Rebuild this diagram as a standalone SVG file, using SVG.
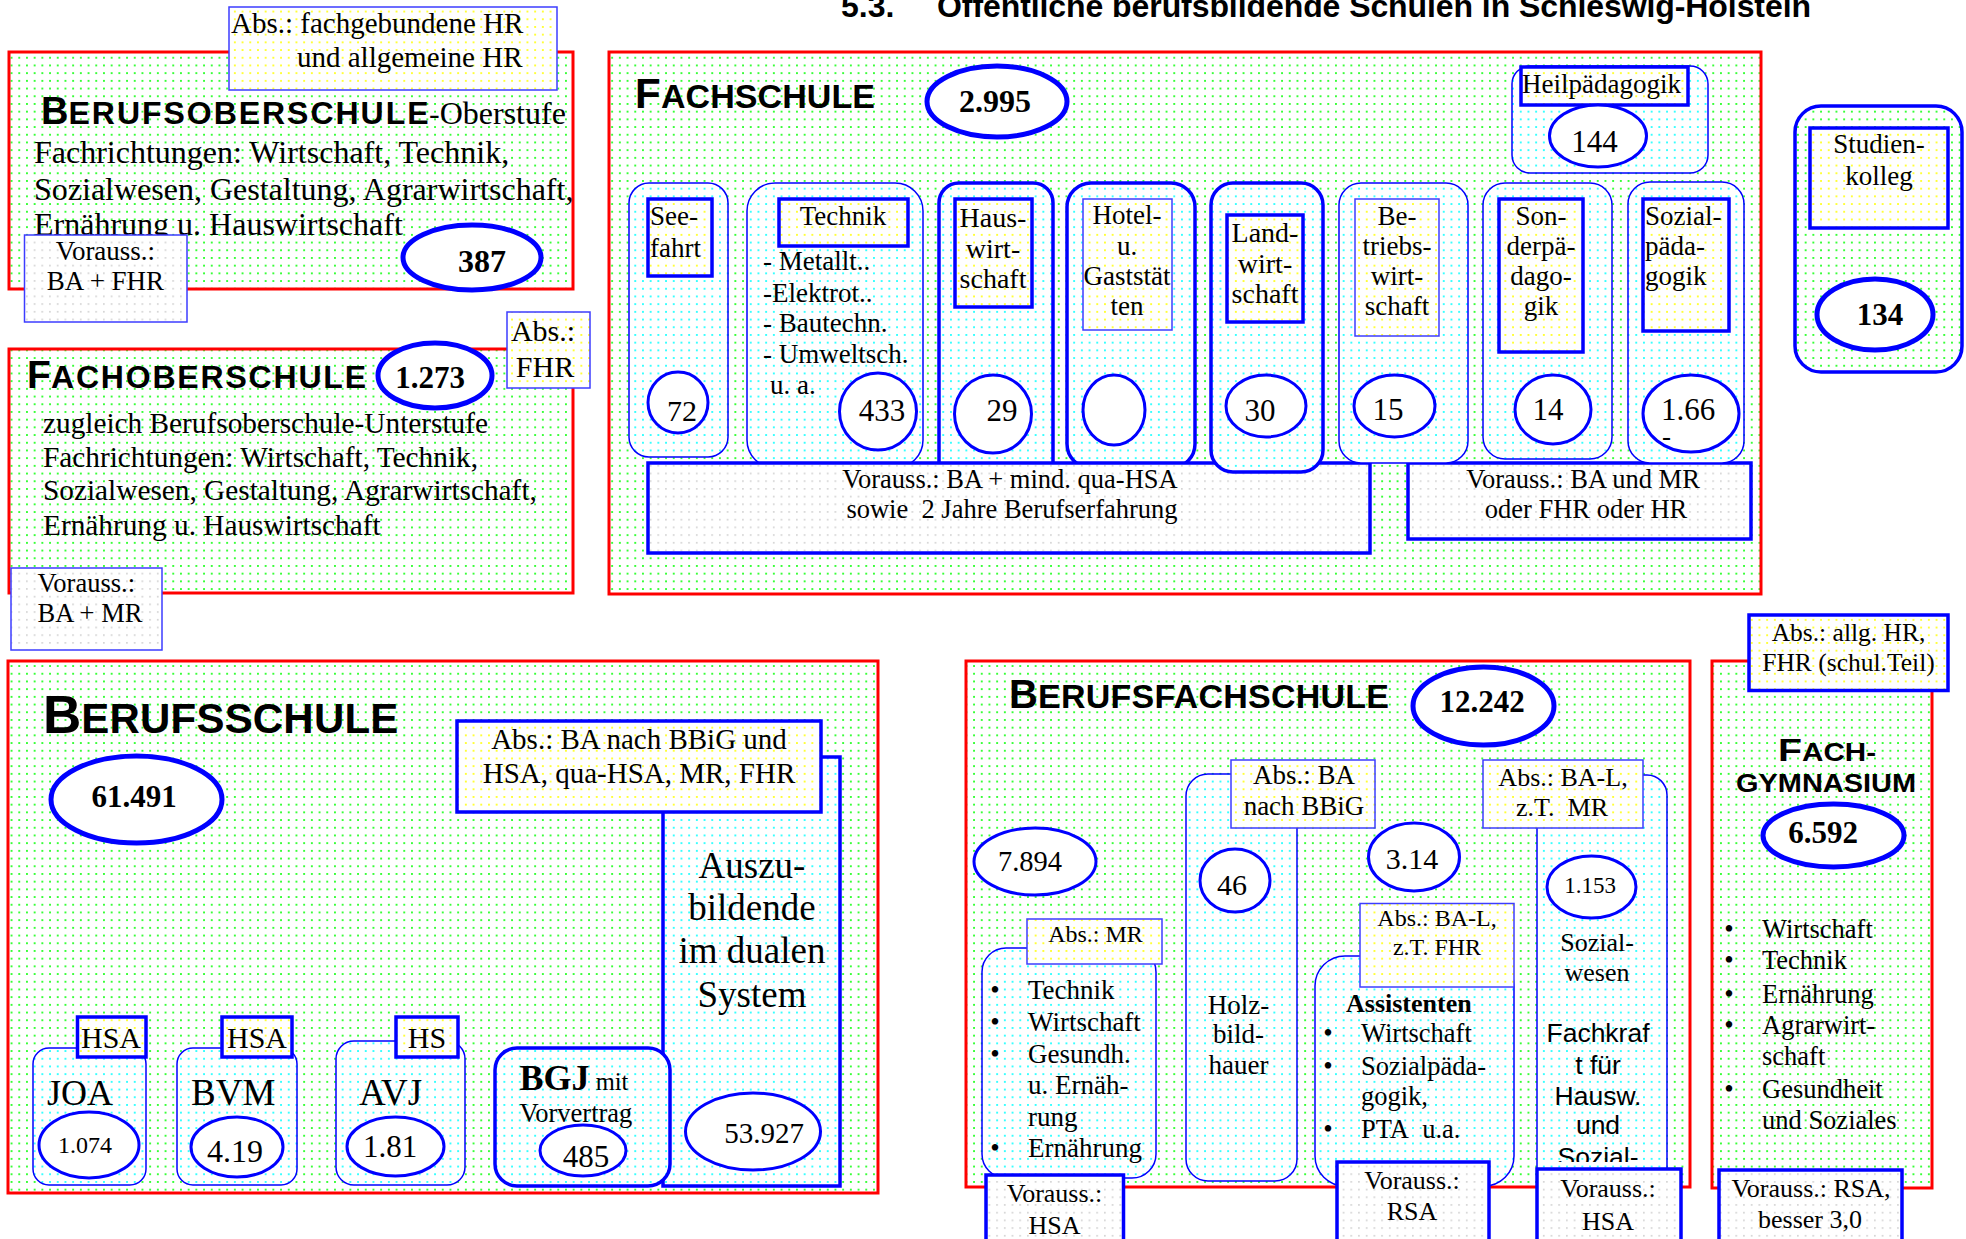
<svg xmlns="http://www.w3.org/2000/svg" width="1966" height="1239" viewBox="0 0 1966 1239">
<defs>
<pattern id="pg" patternUnits="userSpaceOnUse" width="7.7" height="7.7"><rect width="7.7" height="7.7" fill="#fff"/><rect x="3" y="3" width="1.7" height="1.7" fill="#00ff00"/></pattern>
<pattern id="pc" patternUnits="userSpaceOnUse" width="7.7" height="7.7"><rect width="7.7" height="7.7" fill="#fff"/><rect x="3" y="3" width="1.7" height="1.7" fill="#00ffff"/></pattern>
<pattern id="py" patternUnits="userSpaceOnUse" width="7.7" height="7.7"><rect width="7.7" height="7.7" fill="#fff"/><rect x="3" y="3" width="1.7" height="1.7" fill="#ffff00"/></pattern>
<pattern id="pgr" patternUnits="userSpaceOnUse" width="7.7" height="7.7"><rect width="7.7" height="7.7" fill="#fff"/><rect x="3" y="3" width="1.5" height="1.5" fill="#c8c8c8"/></pattern>
<clipPath id="clipSW"><rect x="1537" y="1000" width="130" height="162"/></clipPath>
</defs>
<style>
.s{font-family:"Liberation Serif","Times New Roman",serif;fill:#000}
.a{font-family:"Liberation Sans",Arial,sans-serif;font-weight:bold;fill:#000}
.ar{font-family:"Liberation Sans",Arial,sans-serif;fill:#000}
.b{font-weight:bold}
.m{text-anchor:middle}
.red{fill:url(#pg);stroke:#ff0000;stroke-width:3}
.cyn{fill:url(#pc);stroke:#0000ff;stroke-width:1.5}
.cynT{fill:url(#pc);stroke:#0000ff;stroke-width:3.5}
.grn{fill:url(#pg);stroke:#0000ff;stroke-width:3.5}
.yl{fill:url(#py);stroke:#3c3cff;stroke-width:1.5}
.ylT{fill:url(#py);stroke:#0000ff;stroke-width:3.5}
.vr{fill:url(#pgr);stroke:#3c3cff;stroke-width:1.5}
.vrT{fill:url(#pgr);stroke:#0000ff;stroke-width:3.5}
.e{fill:#fff;stroke:#0000ff;stroke-width:3}
.E{fill:#fff;stroke:#0000ff;stroke-width:5}
</style>
<rect width="1966" height="1239" fill="#fff"/>

<g id="title">
<text class="a" x="841" y="17" font-size="32">5.3.</text>
<text class="a" x="937" y="17" font-size="32" textLength="874">Öffentliche berufsbildende Schulen in Schleswig-Holstein</text>
</g>

<!-- Berufsoberschule -->
<g id="berufsoberschule">
<rect class="red" x="9" y="52" width="564" height="237"/>
<text class="a" x="41" y="124" font-size="38">B</text>
<text class="a" x="68.5" y="124" font-size="32" textLength="360">ERUFSOBERSCHULE</text>
<text class="s" x="429" y="124" font-size="32">-Oberstufe</text>
<text class="s" x="34" y="163" font-size="32">Fachrichtungen: Wirtschaft, Technik,</text>
<text class="s" x="34" y="200" font-size="32">Sozialwesen, Gestaltung, Agrarwirtschaft,</text>
<text class="s" x="34" y="235" font-size="32">Ernährung u. Hauswirtschaft</text>
<ellipse class="E" cx="472" cy="257.5" rx="69" ry="32.5"/>
<text class="s b m" x="482" y="272" font-size="32">387</text>
</g>
<g id="bos-abs">
<rect class="yl" x="229" y="7" width="328" height="83"/>
<text class="s" x="231" y="33" font-size="29">Abs.: fachgebundene HR</text>
<text class="s" x="297" y="67" font-size="29">und allgemeine HR</text>
</g>
<g id="bos-vorauss">
<rect class="vr" x="24.5" y="235" width="162.5" height="87"/>
<text class="s m" x="105.5" y="260" font-size="27">Vorauss.:</text>
<text class="s m" x="105.5" y="290" font-size="27">BA + FHR</text>
</g>

<!-- Fachoberschule -->
<g id="fachoberschule">
<rect class="red" x="9" y="349" width="564" height="244"/>
<text class="a" x="27" y="388" font-size="39">F</text>
<text class="a" x="51" y="388" font-size="32" textLength="315">ACHOBERSCHULE</text>
<ellipse class="E" cx="435" cy="375.5" rx="57" ry="32.5"/>
<text class="s b m" x="430" y="388" font-size="31">1.273</text>
<text class="s" x="43" y="433" font-size="29.3">zugleich Berufsoberschule-Unterstufe</text>
<text class="s" x="43" y="467" font-size="29.3">Fachrichtungen: Wirtschaft, Technik,</text>
<text class="s" x="43" y="500" font-size="29.3">Sozialwesen, Gestaltung, Agrarwirtschaft,</text>
<text class="s" x="43" y="535" font-size="29.3">Ernährung u. Hauswirtschaft</text>
</g>
<g id="fos-abs">
<rect class="yl" x="507" y="312" width="83" height="76"/>
<text class="s m" x="543" y="341" font-size="30">Abs.:</text>
<text class="s m" x="545" y="377" font-size="30">FHR</text>
</g>
<g id="fos-vorauss">
<rect class="vr" x="11" y="568" width="151" height="82"/>
<text class="s" x="37.6" y="592" font-size="26.5">Vorauss.:</text>
<text class="s" x="37.6" y="622" font-size="26.5">BA + MR</text>
</g>

<!-- Fachschule -->
<g id="fachschule">
<rect class="red" x="609" y="52" width="1152" height="542"/>
<text class="a" x="635" y="108" font-size="42">F</text>
<text class="a" x="661" y="108" font-size="34" textLength="214">ACHSCHULE</text>
<ellipse class="E" cx="997" cy="101.5" rx="70" ry="35.5"/>
<text class="s b m" x="995" y="112" font-size="32">2.995</text>
</g>
<g id="fs-heilpaedagogik">
<rect class="cyn" x="1512" y="66" width="196" height="107" rx="18"/>
<rect class="ylT" x="1521" y="67" width="167" height="38"/>
<text class="s m" x="1601.5" y="93" font-size="27">Heilpädagogik</text>
<ellipse class="e" cx="1598" cy="136" rx="48.5" ry="31" stroke-width="3.5"/>
<text class="s m" x="1594.5" y="152" font-size="31">144</text>
</g>
<g id="fs-seefahrt">
<rect class="cyn" x="629" y="183" width="99" height="274" rx="20"/>
<rect class="ylT" x="648" y="199" width="64" height="77"/>
<text class="s" x="650" y="225" font-size="27">See-</text>
<text class="s" x="650" y="257" font-size="27">fahrt</text>
<ellipse class="e" cx="678" cy="402.5" rx="30" ry="30.5"/>
<text class="s m" x="682" y="421" font-size="30">72</text>
</g>
<g id="fs-technik">
<rect class="cyn" x="747" y="183" width="176" height="285" rx="28"/>
<rect class="ylT" x="779" y="199" width="129" height="47"/>
<text class="s m" x="843" y="225" font-size="27">Technik</text>
<text class="s" x="763" y="270" font-size="27">- Metallt..</text>
<text class="s" x="763" y="302" font-size="27">-Elektrot..</text>
<text class="s" x="763" y="332" font-size="27">- Bautechn.</text>
<text class="s" x="763" y="363" font-size="27">- Umweltsch.</text>
<text class="s" x="770" y="394" font-size="27">u. a.</text>
<ellipse class="e" cx="878" cy="411.5" rx="38.5" ry="38.5"/>
<text class="s m" x="882" y="421" font-size="31">433</text>
</g>
<g id="fs-hauswirtschaft">
<rect class="cynT" x="939" y="183" width="114" height="300" rx="20"/>
<rect class="ylT" x="955" y="199" width="77" height="108"/>
<text class="s m" x="993" y="227" font-size="28">Haus-</text>
<text class="s m" x="993" y="258" font-size="28">wirt-</text>
<text class="s m" x="993" y="288" font-size="28">schaft</text>
<ellipse class="e" cx="993" cy="414" rx="38.5" ry="39"/>
<text class="s m" x="1002" y="421" font-size="31">29</text>
</g>
<g id="fs-hotel">
<rect class="cynT" x="1067" y="183" width="128" height="285" rx="24"/>
<rect class="yl" x="1083" y="199" width="89" height="131"/>
<text class="s m" x="1127" y="224" font-size="27">Hotel-</text>
<text class="s m" x="1127" y="255" font-size="27">u.</text>
<text class="s m" x="1127" y="285" font-size="27">Gaststät</text>
<text class="s m" x="1127" y="315" font-size="27">ten</text>
<ellipse class="e" cx="1114" cy="410" rx="31" ry="35"/>
</g>
<g id="fs-vorauss-1">
<rect class="vrT" x="648" y="463" width="722" height="90"/>
<text class="s m" x="1010" y="488" font-size="26.5">Vorauss.: BA + mind. qua-HSA</text>
<text class="s m" x="1012" y="518" font-size="26.5">sowie&#160; 2 Jahre Berufserfahrung</text>
</g>
<g id="fs-vorauss-2">
<rect class="vrT" x="1408" y="463" width="343" height="76"/>
<text class="s m" x="1583" y="488" font-size="26.5">Vorauss.: BA und MR</text>
<text class="s m" x="1586" y="518" font-size="26.5">oder FHR oder HR</text>
</g>
<g id="fs-landwirtschaft">
<rect class="cynT" x="1211" y="183" width="112" height="289" rx="22"/>
<rect class="ylT" x="1227" y="215" width="76" height="107"/>
<text class="s m" x="1265" y="242" font-size="28">Land-</text>
<text class="s m" x="1265" y="273" font-size="28">wirt-</text>
<text class="s m" x="1265" y="303" font-size="28">schaft</text>
<ellipse class="e" cx="1266" cy="406" rx="40" ry="31"/>
<text class="s m" x="1260" y="421" font-size="31">30</text>
</g>
<g id="fs-betriebswirtschaft">
<rect class="cyn" x="1339" y="183" width="129" height="280" rx="22"/>
<rect class="yl" x="1355" y="199" width="84" height="137"/>
<text class="s m" x="1397" y="225" font-size="27">Be-</text>
<text class="s m" x="1397" y="255" font-size="27">triebs-</text>
<text class="s m" x="1397" y="285" font-size="27">wirt-</text>
<text class="s m" x="1397" y="315" font-size="27">schaft</text>
<ellipse class="e" cx="1394.5" cy="406" rx="40.5" ry="31"/>
<text class="s m" x="1388" y="420" font-size="31">15</text>
</g>
<g id="fs-sonderpaedagogik">
<rect class="cyn" x="1483" y="183" width="129" height="276" rx="22"/>
<rect class="ylT" x="1499" y="199" width="84" height="153"/>
<text class="s m" x="1541" y="225" font-size="27">Son-</text>
<text class="s m" x="1541" y="255" font-size="27">derpä-</text>
<text class="s m" x="1541" y="285" font-size="27">dago-</text>
<text class="s m" x="1541" y="315" font-size="27">gik</text>
<ellipse class="e" cx="1553" cy="409.5" rx="38" ry="34.5"/>
<text class="s m" x="1548" y="420" font-size="31">14</text>
</g>
<g id="fs-sozialpaedagogik">
<rect class="cyn" x="1628" y="182" width="116" height="281" rx="22"/>
<rect class="ylT" x="1643" y="199" width="86" height="132"/>
<text class="s" x="1645" y="225" font-size="27">Sozial-</text>
<text class="s" x="1645" y="255" font-size="27">päda-</text>
<text class="s" x="1645" y="285" font-size="27">gogik</text>
<ellipse class="e" cx="1691" cy="413.5" rx="48" ry="38.5"/>
<text class="s m" x="1688" y="420" font-size="31">1.66</text>
<text class="s" x="1662" y="445" font-size="27">-</text>
</g>
<g id="studienkolleg">
<rect class="grn" x="1795" y="106" width="167" height="266" rx="26"/>
<rect class="ylT" x="1810" y="128" width="138" height="100"/>
<text class="s m" x="1879" y="153" font-size="27">Studien-</text>
<text class="s m" x="1879" y="185" font-size="27">kolleg</text>
<ellipse class="E" cx="1875" cy="314.5" rx="58" ry="35.5"/>
<text class="s b m" x="1880" y="325" font-size="31">134</text>
</g>

<!-- Berufsschule -->
<g id="berufsschule">
<rect class="red" x="8" y="661" width="870" height="532"/>
<text class="a" x="43" y="733" font-size="53">B</text>
<text class="a" x="81.3" y="733" font-size="42" textLength="317">ERUFSSCHULE</text>
<ellipse class="E" cx="136.5" cy="799.5" rx="85.5" ry="43.5"/>
<text class="s b m" x="134" y="807" font-size="31">61.491</text>
</g>
<g id="bs-auszubildende">
<rect class="cynT" x="663" y="757" width="177" height="429"/>
<text class="s m" x="752" y="878" font-size="37">Auszu-</text>
<text class="s m" x="752" y="920" font-size="37">bildende</text>
<text class="s m" x="752" y="963" font-size="37">im dualen</text>
<text class="s m" x="752" y="1007" font-size="37">System</text>
<ellipse class="e" cx="753" cy="1131.5" rx="67.5" ry="38.5"/>
<text class="s m" x="764" y="1143" font-size="29">53.927</text>
</g>
<g id="bs-abs">
<rect class="ylT" x="457" y="721" width="364" height="91"/>
<text class="s m" x="639" y="749" font-size="29">Abs.: BA nach BBiG und</text>
<text class="s m" x="639" y="783" font-size="29">HSA, qua-HSA, MR, FHR</text>
</g>
<g id="bs-joa">
<rect class="cyn" x="33" y="1048" width="113" height="137" rx="16"/>
<rect class="ylT" x="77.5" y="1017" width="68.5" height="40"/>
<text class="s m" x="111" y="1048" font-size="30">HSA</text>
<text class="s" x="47" y="1105" font-size="36">JOA</text>
<ellipse class="e" cx="89" cy="1145" rx="50" ry="33" stroke-width="3.5"/>
<text class="s m" x="85" y="1153" font-size="24">1.074</text>
</g>
<g id="bs-bvm">
<rect class="cyn" x="177" y="1048" width="120" height="137" rx="16"/>
<rect class="ylT" x="222" y="1017" width="70" height="40"/>
<text class="s m" x="257" y="1048" font-size="30">HSA</text>
<text class="s" x="191" y="1105" font-size="37">BVM</text>
<ellipse class="e" cx="237" cy="1147" rx="46" ry="30" stroke-width="3.5"/>
<text class="s m" x="235" y="1162" font-size="32">4.19</text>
</g>
<g id="bs-avj">
<rect class="cyn" x="336" y="1041" width="129" height="144" rx="18"/>
<rect class="ylT" x="396" y="1017" width="62" height="40"/>
<text class="s m" x="427" y="1048" font-size="30">HS</text>
<text class="s" x="359" y="1105" font-size="37">AVJ</text>
<ellipse class="e" cx="395.5" cy="1146.5" rx="48.5" ry="29.5" stroke-width="3.5"/>
<text class="s m" x="390" y="1157" font-size="31">1.81</text>
</g>
<g id="bs-bgj">
<rect class="cynT" x="495" y="1048" width="175" height="138" rx="22"/>
<text class="s" x="519.5" y="1090"><tspan class="b" font-size="36">BGJ</tspan><tspan font-size="24.5"> mit</tspan></text>
<text class="s" x="519.5" y="1122" font-size="26.5">Vorvertrag</text>
<ellipse class="e" cx="583" cy="1150.5" rx="43" ry="25.5"/>
<text class="s m" x="586" y="1167" font-size="31">485</text>
</g>

<!-- Berufsfachschule -->
<g id="berufsfachschule">
<rect class="red" x="966" y="661" width="724" height="526"/>
<text class="a" x="1009" y="708" font-size="40">B</text>
<text class="a" x="1038" y="708" font-size="34" textLength="351">ERUFSFACHSCHULE</text>
<ellipse class="E" cx="1483.5" cy="706" rx="70.5" ry="39"/>
<text class="s b m" x="1482" y="712" font-size="31">12.242</text>
<ellipse class="e" cx="1035" cy="861.5" rx="61" ry="33.5"/>
<text class="s m" x="1030" y="871" font-size="28.5">7.894</text>
<ellipse class="e" cx="1414" cy="857" rx="45.5" ry="34"/>
<text class="s m" x="1412" y="869" font-size="30">3.14</text>
</g>
<g id="bfs-mr">
<rect class="cyn" x="982" y="948" width="174" height="230" rx="24"/>
<rect class="yl" x="1027" y="919" width="135" height="45"/>
<text class="s m" x="1095.5" y="942" font-size="24">Abs.: MR</text>
<text class="s m" x="995" y="999" font-size="27">•</text>
<text class="s" x="1028" y="999" font-size="27">Technik</text>
<text class="s m" x="995" y="1031" font-size="27">•</text>
<text class="s" x="1028" y="1031" font-size="27">Wirtschaft</text>
<text class="s m" x="995" y="1063" font-size="27">•</text>
<text class="s" x="1028" y="1063" font-size="27">Gesundh.</text>
<text class="s" x="1028" y="1094" font-size="27">u. Ernäh-</text>
<text class="s" x="1028" y="1126" font-size="27">rung</text>
<text class="s m" x="995" y="1157" font-size="27">•</text>
<text class="s" x="1028" y="1157" font-size="27">Ernährung</text>
</g>
<g id="bfs-holzbildhauer">
<rect class="cyn" x="1186" y="774" width="111" height="407" rx="22"/>
<rect class="yl" x="1231" y="760" width="144" height="68"/>
<text class="s m" x="1304" y="784" font-size="27">Abs.: BA</text>
<text class="s m" x="1304" y="815" font-size="27">nach BBiG</text>
<ellipse class="e" cx="1235" cy="880.5" rx="35" ry="31.5" stroke-width="3.5"/>
<text class="s m" x="1232" y="895" font-size="30">46</text>
<text class="s m" x="1238.5" y="1014" font-size="27">Holz-</text>
<text class="s m" x="1238.5" y="1043" font-size="27">bild-</text>
<text class="s m" x="1238.5" y="1073.5" font-size="27">hauer</text>
</g>
<g id="bfs-assistenten">
<rect class="cyn" x="1315" y="956" width="199" height="230" rx="30"/>
<rect class="yl" x="1360" y="903.5" width="154" height="83.5"/>
<text class="s m" x="1437" y="926" font-size="24">Abs.: BA-L,</text>
<text class="s m" x="1437" y="954.5" font-size="24">z.T. FHR</text>
<text class="s b" x="1346" y="1011.5" font-size="26">Assistenten</text>
<text class="s m" x="1328" y="1042" font-size="27">•</text>
<text class="s" x="1361" y="1042" font-size="26.5">Wirtschaft</text>
<text class="s m" x="1328" y="1075" font-size="27">•</text>
<text class="s" x="1361" y="1075" font-size="26.5">Sozialpäda-</text>
<text class="s" x="1361" y="1105" font-size="26.5">gogik,</text>
<text class="s m" x="1328" y="1138" font-size="27">•</text>
<text class="s" x="1361" y="1138" font-size="26.5">PTA&#160; u.a.</text>
</g>
<g id="bfs-sozialwesen">
<rect class="cyn" x="1537" y="775" width="130" height="415" rx="20"/>
<rect class="yl" x="1483" y="760" width="160" height="68"/>
<text class="s m" x="1563" y="785.5" font-size="26">Abs.: BA-L,</text>
<text class="s m" x="1562" y="816" font-size="26">z.T.&#160; MR</text>
<ellipse class="e" cx="1591.5" cy="887" rx="44.5" ry="31"/>
<text class="s m" x="1590" y="893" font-size="23">1.153</text>
<text class="s m" x="1597" y="950.5" font-size="26">Sozial-</text>
<text class="s m" x="1597" y="981" font-size="26">wesen</text>
<g clip-path="url(#clipSW)">
<text class="ar m" x="1598" y="1042" font-size="26.5">Fachkraf</text>
<text class="ar m" x="1598" y="1073.5" font-size="26.5">t für</text>
<text class="ar m" x="1598" y="1104.5" font-size="26.5">Hausw.</text>
<text class="ar m" x="1598" y="1134" font-size="26.5">und</text>
<text class="ar m" x="1598" y="1166" font-size="26.5">Sozial-</text>
</g>
</g>
<g id="bfs-vorauss-hsa">
<rect class="vrT" x="986" y="1175" width="137.5" height="80"/>
<text class="s m" x="1054.5" y="1202" font-size="26">Vorauss.:</text>
<text class="s m" x="1054.5" y="1234" font-size="26">HSA</text>
</g>
<g id="bfs-vorauss-rsa">
<rect class="vrT" x="1337" y="1162" width="152" height="90"/>
<text class="s m" x="1412" y="1189" font-size="26">Vorauss.:</text>
<text class="s m" x="1412" y="1219.5" font-size="26">RSA</text>
</g>
<g id="bfs-vorauss-hsa2">
<rect class="vrT" x="1537" y="1169" width="144" height="80"/>
<text class="s m" x="1608" y="1197" font-size="26">Vorauss.:</text>
<text class="s m" x="1608" y="1229.5" font-size="26">HSA</text>
</g>

<!-- Fachgymnasium -->
<g id="fachgymnasium">
<rect class="red" x="1712" y="661" width="220" height="527"/>
<text class="a" x="1778" y="761" font-size="32" textLength="24" lengthAdjust="spacingAndGlyphs">F</text>
<text class="a" x="1802" y="761" font-size="25" textLength="74" lengthAdjust="spacingAndGlyphs">ACH-</text>
<text class="a" x="1736" y="791.5" font-size="26" textLength="180" lengthAdjust="spacingAndGlyphs">GYMNASIUM</text>
<ellipse class="E" cx="1833.5" cy="835.5" rx="70.5" ry="31.5"/>
<text class="s b m" x="1823" y="842.5" font-size="31">6.592</text>
<text class="s m" x="1729" y="937.5" font-size="27">•</text>
<text class="s" x="1762" y="937.5" font-size="26.5">Wirtschaft</text>
<text class="s m" x="1729" y="969" font-size="27">•</text>
<text class="s" x="1762" y="969" font-size="26.5">Technik</text>
<text class="s m" x="1729" y="1002.5" font-size="27">•</text>
<text class="s" x="1762" y="1002.5" font-size="26.5">Ernährung</text>
<text class="s m" x="1729" y="1034" font-size="27">•</text>
<text class="s" x="1762" y="1034" font-size="26.5">Agrarwirt-</text>
<text class="s" x="1762" y="1064.5" font-size="26.5">schaft</text>
<text class="s m" x="1729" y="1098" font-size="27">•</text>
<text class="s" x="1762" y="1098" font-size="26.5">Gesundheit</text>
<text class="s" x="1762" y="1129" font-size="26.5">und Soziales</text>
</g>
<g id="fg-abs">
<rect class="ylT" x="1749" y="615" width="199" height="75.5"/>
<text class="s m" x="1848.5" y="641" font-size="25.5">Abs.: allg. HR,</text>
<text class="s m" x="1848.5" y="671" font-size="25.5">FHR (schul.Teil)</text>
</g>
<g id="fg-vorauss">
<rect class="vrT" x="1719" y="1170" width="183" height="80"/>
<text class="s m" x="1811" y="1197" font-size="26">Vorauss.: RSA,</text>
<text class="s m" x="1810" y="1227.5" font-size="26">besser 3,0</text>
</g>

<g id="connectors"/>
</svg>
